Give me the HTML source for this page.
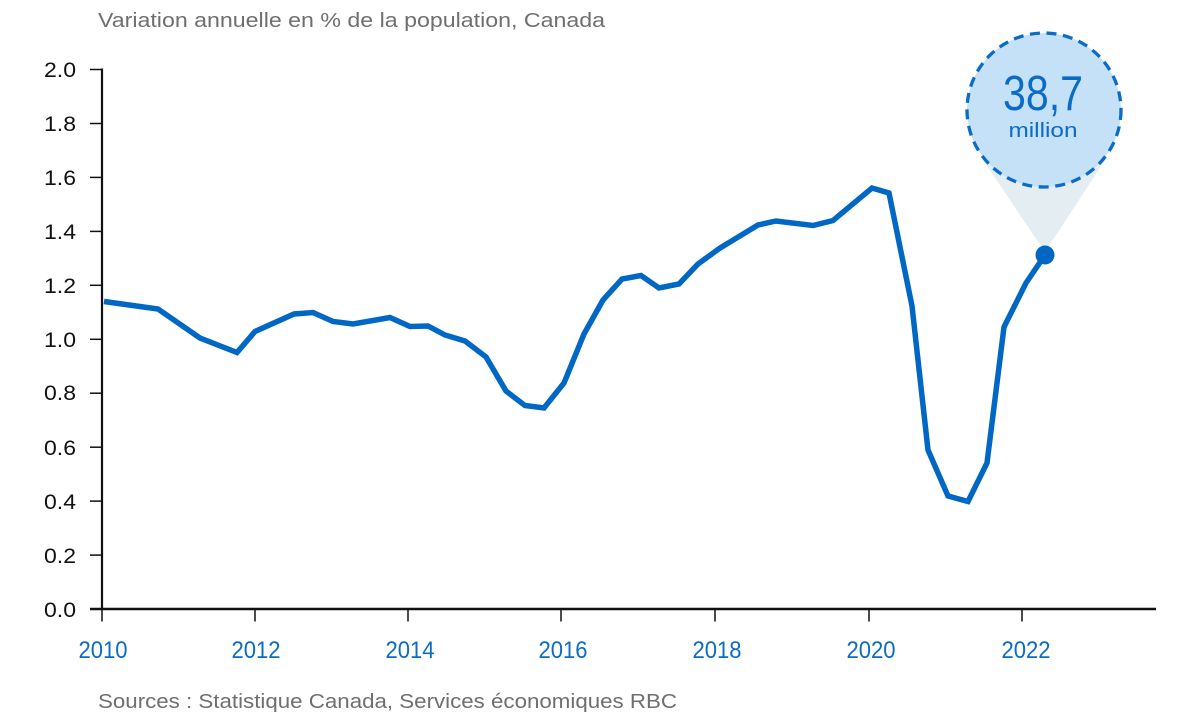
<!DOCTYPE html>
<html>
<head>
<meta charset="utf-8">
<style>
  html,body{margin:0;padding:0;background:#fff;}
  svg{display:block;}
  text{font-family:"Liberation Sans", sans-serif;}
</style>
</head>
<body>
<svg width="1194" height="724" viewBox="0 0 1194 724" xmlns="http://www.w3.org/2000/svg">
  <rect width="1194" height="724" fill="#fff"/>
  <!-- title -->
  <text x="98" y="27" font-size="20" fill="#6f6f6f" textLength="507" lengthAdjust="spacingAndGlyphs">Variation annuelle en % de la population, Canada</text>

  <!-- y axis labels -->
  <g font-size="21" fill="#111" text-anchor="end">
    <text x="76" y="77" textLength="32" lengthAdjust="spacingAndGlyphs">2.0</text>
    <text x="76" y="131" textLength="32" lengthAdjust="spacingAndGlyphs">1.8</text>
    <text x="76" y="185" textLength="32" lengthAdjust="spacingAndGlyphs">1.6</text>
    <text x="76" y="239" textLength="32" lengthAdjust="spacingAndGlyphs">1.4</text>
    <text x="76" y="293" textLength="32" lengthAdjust="spacingAndGlyphs">1.2</text>
    <text x="76" y="347" textLength="32" lengthAdjust="spacingAndGlyphs">1.0</text>
    <text x="76" y="400" textLength="32" lengthAdjust="spacingAndGlyphs">0.8</text>
    <text x="76" y="455" textLength="32" lengthAdjust="spacingAndGlyphs">0.6</text>
    <text x="76" y="509" textLength="32" lengthAdjust="spacingAndGlyphs">0.4</text>
    <text x="76" y="563" textLength="32" lengthAdjust="spacingAndGlyphs">0.2</text>
    <text x="76" y="617" textLength="32" lengthAdjust="spacingAndGlyphs">0.0</text>
  </g>
  <!-- y ticks -->
  <g stroke="#111" stroke-width="1.5">
    <line x1="90" y1="69.5" x2="102" y2="69.5"/>
    <line x1="90" y1="123.5" x2="102" y2="123.5"/>
    <line x1="90" y1="177.4" x2="102" y2="177.4"/>
    <line x1="90" y1="231.4" x2="102" y2="231.4"/>
    <line x1="90" y1="285.3" x2="102" y2="285.3"/>
    <line x1="90" y1="339.3" x2="102" y2="339.3"/>
    <line x1="90" y1="393.2" x2="102" y2="393.2"/>
    <line x1="90" y1="447.2" x2="102" y2="447.2"/>
    <line x1="90" y1="501.1" x2="102" y2="501.1"/>
    <line x1="90" y1="555.1" x2="102" y2="555.1"/>
  </g>
  <!-- axes -->
  <line x1="102" y1="68.5" x2="102" y2="610" stroke="#111" stroke-width="2.2"/>
  <line x1="90" y1="609" x2="1156" y2="609" stroke="#111" stroke-width="2.6"/>
  <!-- x ticks -->
  <g stroke="#111" stroke-width="1.5">
    <line x1="102" y1="609" x2="102" y2="621.5"/>
    <line x1="255" y1="609" x2="255" y2="621.5"/>
    <line x1="408" y1="609" x2="408" y2="621.5"/>
    <line x1="561" y1="609" x2="561" y2="621.5"/>
    <line x1="715" y1="609" x2="715" y2="621.5"/>
    <line x1="869" y1="609" x2="869" y2="621.5"/>
    <line x1="1022" y1="609" x2="1022" y2="621.5"/>
  </g>
  <!-- x labels -->
  <g font-size="24" fill="#0a6cc6" text-anchor="middle">
    <text x="103" y="658" textLength="49" lengthAdjust="spacingAndGlyphs">2010</text>
    <text x="256" y="658" textLength="49" lengthAdjust="spacingAndGlyphs">2012</text>
    <text x="410" y="658" textLength="49" lengthAdjust="spacingAndGlyphs">2014</text>
    <text x="563" y="658" textLength="49" lengthAdjust="spacingAndGlyphs">2016</text>
    <text x="717" y="658" textLength="49" lengthAdjust="spacingAndGlyphs">2018</text>
    <text x="871" y="658" textLength="49" lengthAdjust="spacingAndGlyphs">2020</text>
    <text x="1026" y="658" textLength="49" lengthAdjust="spacingAndGlyphs">2022</text>
  </g>

  <!-- callout pointer -->
  <polygon points="983,160 1107,157 1045,252" fill="#e4edf2"/>
  <!-- callout bubble -->
  <circle cx="1044" cy="110" r="77" fill="#c4e1f8" stroke="#0a6cc6" stroke-width="3.3" stroke-dasharray="10 6.6"/>
  <text x="1043" y="110" font-size="49" fill="#0a6cc6" text-anchor="middle" textLength="80" lengthAdjust="spacingAndGlyphs">38,7</text>
  <text x="1043" y="137" font-size="20" fill="#0a6cc6" text-anchor="middle" textLength="69" lengthAdjust="spacingAndGlyphs">million</text>

  <!-- data line -->
  <polyline fill="none" stroke="#0068c4" stroke-width="5.5" stroke-linejoin="miter" stroke-miterlimit="3"
    points="104,301.5 158,309 200,338 237,352.5 255,331.5 294,314 313,312.5 333,321.5 353,324 390,317.5 410,326.5 428,326 445,335 465,341 486,357 506,391 525,405.5 544,408 564,383 584,334 603,300 622,279 641,275.5 659,288 679,284 698,264 720,248 758,225 776,221 813,225.5 833,220.5 872,188 889,193 912,306 928,450 948,496 968,501.5 987,463 1004,327 1026,283 1045,255"/>
  <circle cx="1045" cy="255" r="9.5" fill="#0068c4"/>

  <!-- source -->
  <text x="98" y="708" font-size="20" fill="#6f6f6f" textLength="579" lengthAdjust="spacingAndGlyphs">Sources : Statistique Canada, Services économiques RBC</text>
</svg>
</body>
</html>
